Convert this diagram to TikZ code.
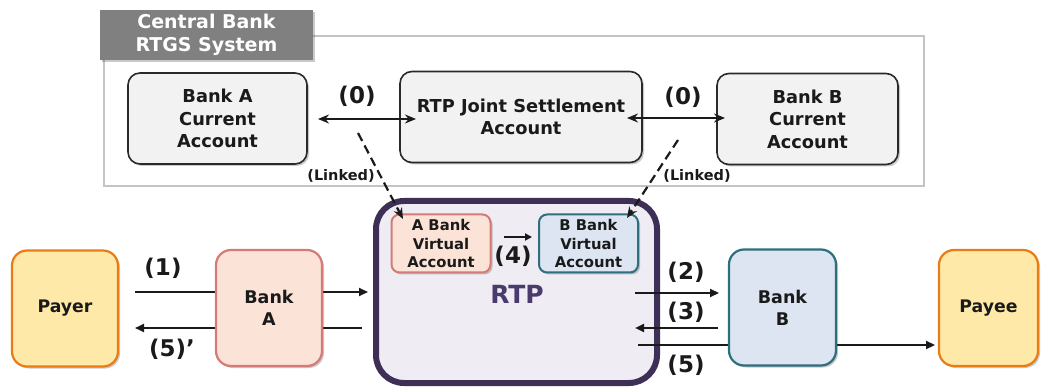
\documentclass[tikz,border=0pt]{standalone}
\usepackage{fontspec}
\setmainfont{DejaVu Sans}
\usetikzlibrary{arrows.meta,shadows}

\pgfdeclarelayer{bg}
\pgfdeclarelayer{fg}
\pgfsetlayers{bg,main,fg}

\definecolor{ink}{HTML}{1A1A1A}
\definecolor{frameGray}{HTML}{C4C4C4}
\definecolor{tagGray}{HTML}{808080}
\definecolor{acctFill}{HTML}{F2F2F2}
\definecolor{acctLine}{HTML}{2A2A2A}
\definecolor{rtpLine}{HTML}{3D2F56}
\definecolor{rtpFill}{HTML}{EFECF4}
\definecolor{rtpText}{HTML}{4A3B6C}
\definecolor{partyFill}{HTML}{FFE9A8}
\definecolor{partyLine}{HTML}{E97C14}
\definecolor{bankAFill}{HTML}{FBE3D7}
\definecolor{bankALine}{HTML}{D47B78}
\definecolor{bankBFill}{HTML}{DCE5F1}
\definecolor{bankBLine}{HTML}{2F6E7C}

\tikzset{
  softshadow/.style={drop shadow={shadow xshift=2pt,shadow yshift=-2pt,opacity=0.3,fill=black!70}},
  acct/.style={draw=acctLine,line width=1.6pt,fill=acctFill,rounded corners=12pt,
    minimum width=#1,minimum height=91pt,inner sep=0pt,align=center,text=ink,
    font=\fontsize{17.8}{22.5}\selectfont\bfseries,softshadow},
  party/.style={draw=partyLine,fill=partyFill,line width=2.2pt,rounded corners=15pt,
    minimum width=#1,minimum height=116pt,inner sep=0pt,align=center,text=ink,
    font=\fontsize{17.3}{22}\selectfont\bfseries,softshadow},
  bankbox/.style={line width=2.2pt,rounded corners=15pt,minimum width=106pt,
    minimum height=116pt,inner sep=0pt,align=center,text=ink,
    font=\fontsize{17.5}{22}\selectfont\bfseries,softshadow},
  vacct/.style={line width=2pt,rounded corners=8pt,minimum width=99pt,
    minimum height=58pt,inner sep=0pt,align=center,text=ink,
    font=\fontsize{14.8}{18.5}\selectfont\bfseries,softshadow},
  steplabel/.style={text=ink,font=\fontsize{23}{26}\selectfont\bfseries,inner sep=0pt},
  linklabel/.style={text=ink,font=\fontsize{14.5}{16}\selectfont\bfseries,inner sep=0pt},
  flow/.style={draw=ink,line width=2.2pt,-{Triangle[length=9pt,width=8pt]}},
  twoway/.style={draw=ink,line width=2.2pt,{Stealth[length=11pt,width=9pt]}-{Stealth[length=11pt,width=9pt]}},
  linkflow/.style={draw=ink,line width=2.2pt,dash pattern=on 9pt off 5pt,-{Stealth[length=11pt,width=9pt]}},
}

\begin{document}
\begin{tikzpicture}[x=1pt,y=-1pt]
\useasboundingbox (0,0) rectangle (1041,387);

% Central bank RTGS frame and its tag
\begin{pgfonlayer}{bg}
  \node[draw=frameGray,line width=1.5pt,minimum width=820pt,minimum height=150pt,inner sep=0pt]
    (rtgs) at (514,111) {};
  \node[fill=tagGray,minimum width=213pt,minimum height=50pt,inner sep=0pt,align=center,
    text=white,font=\fontsize{19}{23}\selectfont\bfseries,softshadow]
    (rtgstag) at (206.5,35) {Central Bank\\RTGS System};
  % RTP platform
  \node[draw=rtpLine,fill=rtpFill,line width=6pt,rounded corners=28pt,
    minimum width=281pt,minimum height=182pt,inner sep=0pt] (rtp) at (516.5,292) {};
\end{pgfonlayer}
\node[text=rtpText,font=\fontsize{25}{28}\selectfont\bfseries,inner sep=0pt] (rtplabel) at (517,294) {RTP};

% Accounts held in the RTGS system
\node[acct=179pt] (acctA) at (217.5,118.5) {Bank A\\Current\\Account};
\node[acct=242pt] (joint) at (521,117) {RTP Joint Settlement\\Account};
\node[acct=181pt] (acctB) at (807.5,119) {Bank B\\Current\\Account};

\coordinate (jointL) at (416,119);
\coordinate (acctAR) at (318,119);
\coordinate (jointR) at (627,118);
\coordinate (acctBL) at (725,118);
\draw[twoway] (acctAR) -- (jointL);
\draw[twoway] (jointR) -- (acctBL);
\node[steplabel] (zeroA) at (357,96) {(0)};
\node[steplabel] (zeroB) at (683,97) {(0)};

% Virtual accounts inside RTP
\node[vacct,draw=bankALine,fill=bankAFill] (vA) at (441,243.5) {A Bank\\Virtual\\Account};
\node[vacct,draw=bankBLine,fill=bankBFill] (vB) at (588.5,243.5) {B Bank\\Virtual\\Account};

\coordinate (linkA) at (358,133);
\coordinate (linkB) at (678,140);
\coordinate (vAtop) at (403,219);
\coordinate (vBtop) at (627,218);
\draw[linkflow] (linkA) -- (vAtop);
\draw[linkflow] (linkB) -- (vBtop);
\node[linklabel] (linkedA) at (341,176) {(Linked)};
\node[linklabel] (linkedB) at (697,176) {(Linked)};

\coordinate (v4s) at (504,237);
\coordinate (v4e) at (532,237);
\draw[draw=ink,line width=2pt,-{Triangle[length=7pt,width=7pt]}] (v4s) -- (v4e);
\node[steplabel] (four) at (513,256) {(4)};

% Payment flow between the parties
\coordinate (p1s) at (135,292);
\coordinate (p1e) at (368,292);
\coordinate (p5as) at (362,328);
\coordinate (p5ae) at (135,328);
\coordinate (p2s) at (635,293);
\coordinate (p2e) at (719,293);
\coordinate (p3s) at (718,328);
\coordinate (p3e) at (635,328);
\coordinate (p5s) at (638,345);
\coordinate (p5e) at (935,345);
\draw[flow] (p1s) -- (p1e);
\draw[flow] (p5as) -- (p5ae);
\draw[flow] (p2s) -- (p2e);
\draw[flow] (p3s) -- (p3e);
\draw[flow] (p5s) -- (p5e);

\begin{pgfonlayer}{fg}
  \node[party=106pt] (payer) at (65,308.5) {Payer};
  \node[bankbox,draw=bankALine,fill=bankAFill] (bankA) at (269,308) {Bank\\A};
  \node[bankbox,draw=bankBLine,fill=bankBFill,minimum width=107pt] (bankB) at (782.5,307.5) {Bank\\B};
  \node[party=99pt] (payee) at (988.5,308) {Payee};
\end{pgfonlayer}

\node[steplabel] (s1) at (163,268) {(1)};
\node[steplabel] (s5a) at (172,349) {(5)’};
\node[steplabel] (s2) at (686,272) {(2)};
\node[steplabel] (s3) at (686,312) {(3)};
\node[steplabel] (s5) at (686,365) {(5)};
\end{tikzpicture}
\end{document}
